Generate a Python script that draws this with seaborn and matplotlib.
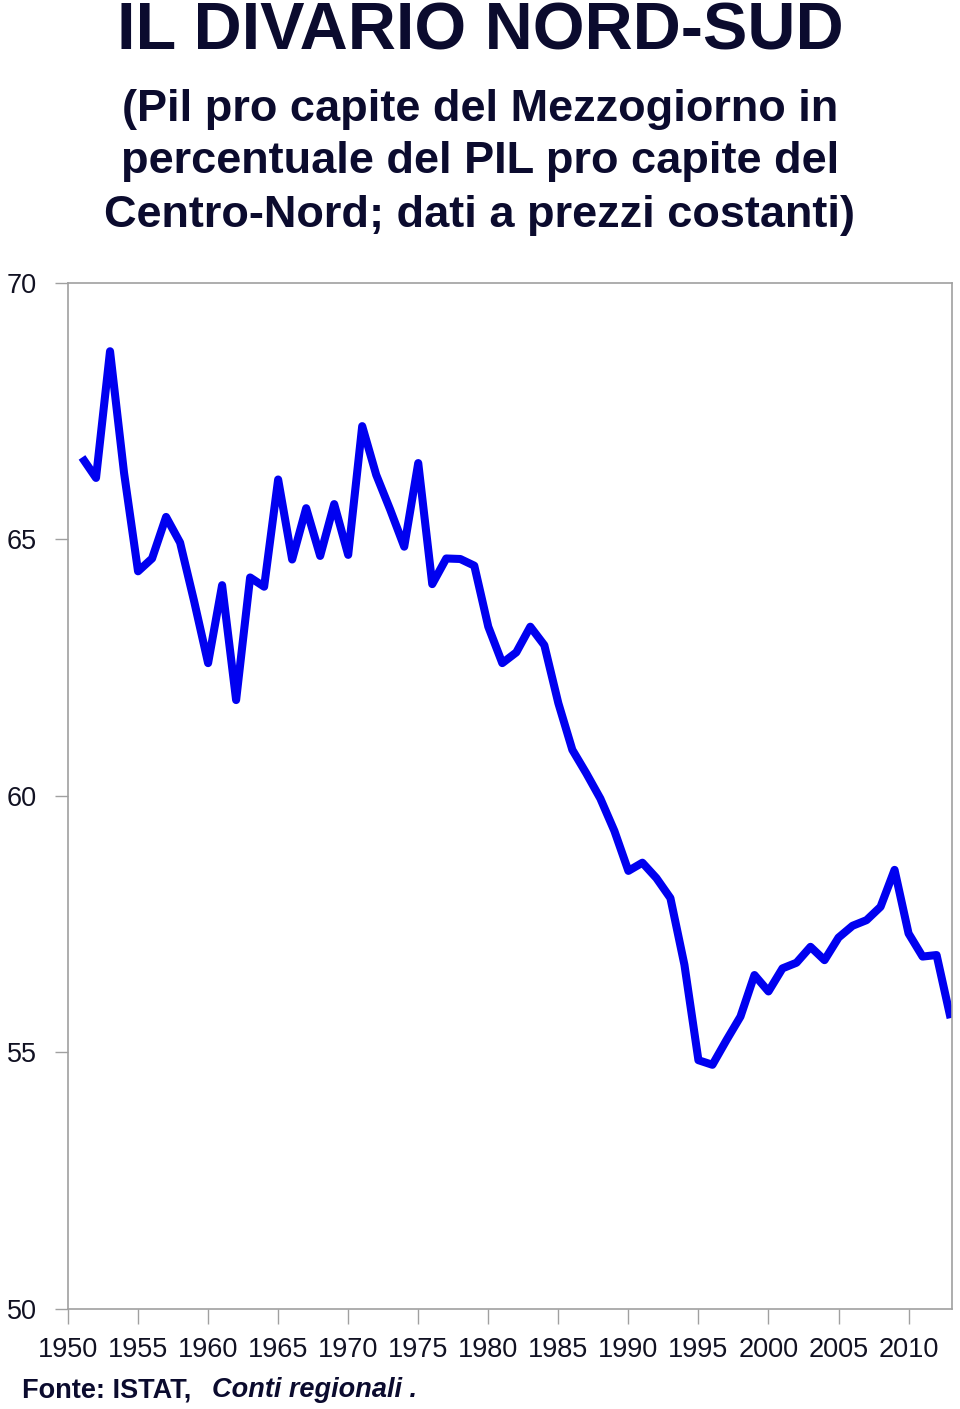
import matplotlib
matplotlib.use("Agg")
import matplotlib.pyplot as plt
import seaborn as sns
import pandas as pd

years = list(range(1951, 2014))
values = [66.6, 66.2, 68.67, 66.3, 64.38, 64.63, 65.44, 64.94, 63.8, 62.59,
          64.11, 61.87, 64.26, 64.08, 66.17, 64.61, 65.61, 64.68, 65.69, 64.70,
          67.21, 66.26, 65.58, 64.86, 66.49, 64.13, 64.63, 64.62, 64.49, 63.30,
          62.59, 62.80, 63.30, 62.94, 61.81, 60.90, 60.44, 59.95, 59.32, 58.54,
          58.70, 58.40, 58.01, 56.71, 54.85, 54.76, 55.24, 55.70, 56.51, 56.19,
          56.64, 56.75, 57.06, 56.80, 57.24, 57.47, 57.58, 57.84, 58.56, 57.32,
          56.87, 56.90, 55.67]
x_ticks = list(range(1950, 2011, 5))
y_ticks = [50, 55, 60, 65, 70]

title = "IL DIVARIO NORD-SUD"
subtitle = ["(Pil pro capite del Mezzogiorno in",
            "percentuale del PIL pro capite del",
            "Centro-Nord; dati a prezzi costanti)"]

df = pd.DataFrame({"anno": years, "valore": values})

sns.set_theme(style="white")
plt.rcParams["font.family"] = ["Liberation Sans", "DejaVu Sans"]

fig = plt.figure(figsize=(9.6, 14.09), dpi=100)
ax = fig.add_axes([68/960, 1 - 1309/1409, (952-68)/960, (1309-283)/1409])

sns.lineplot(data=df, x="anno", y="valore", ax=ax, color="#0000f0", linewidth=5.8,
             solid_joinstyle="round", solid_capstyle="butt")

ax.set_xlim(1950, 2013.1)
ax.set_ylim(50, 70)
ax.set_xticks(x_ticks)
ax.set_yticks(y_ticks)
ax.set_xlabel("")
ax.set_ylabel("")
for s in ax.spines.values():
    s.set_color("#a0a0a0")
    s.set_linewidth(1.2)
ax.tick_params(axis="x", direction="out", length=10.8, width=1, color="#a0a0a0",
               labelsize=19.5, pad=9.5, labelcolor="#111122", bottom=True)
ax.tick_params(axis="y", direction="out", length=9.4, width=1, color="#a0a0a0",
               labelsize=19.5, pad=13, labelcolor="#111122", left=True)

navy = "#0b0b2e"
fig.text(0.5, 1 - 32/1409, title, ha="center", va="center", fontsize=48,
         fontweight="bold", color=navy)
for i, line in enumerate(subtitle):
    fig.text(0.5, 1 - (109 + 53*i)/1409, line, ha="center", va="center", fontsize=32.5,
             fontweight="bold", color=navy)

fig.text(22/960, 1 - 1390/1409, "Fonte: ISTAT,", ha="left", va="center", fontsize=19.5,
         fontweight="bold", color=navy)
fig.text(212/960, 1 - 1390/1409, "Conti regionali .", ha="left", va="center", fontsize=19.5,
         fontweight="bold", fontstyle="italic", color=navy)

fig.savefig("out.png", dpi=100)
